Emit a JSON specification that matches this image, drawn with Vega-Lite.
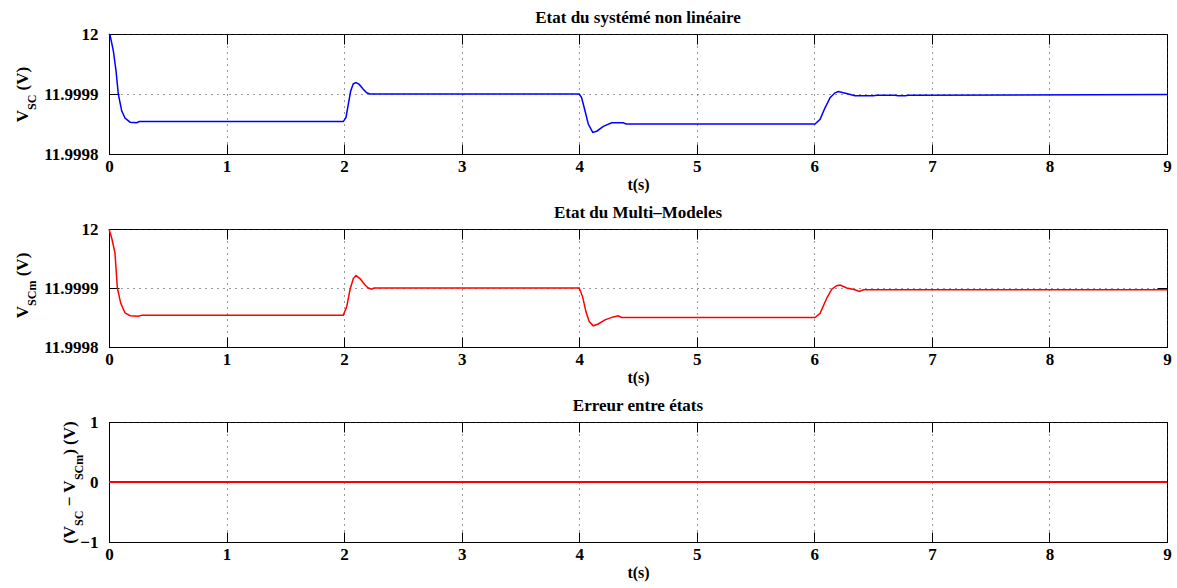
{
  "$schema": "https://vega.github.io/schema/vega-lite/v6.json",
  "background": "white",
  "padding": {"left": 12, "top": 8, "right": 2, "bottom": 2},
  "spacing": 10,
  "config": {
    "font": "Liberation Serif",
    "view": {"stroke": "black", "strokeWidth": 1},
    "axis": {
      "labelFont": "Liberation Serif",
      "labelFontSize": 17,
      "labelFontWeight": "bold",
      "labelColor": "black",
      "labelFlush": false,
      "labelOverlap": false,
      "labelBound": false,
      "titleFont": "Liberation Serif",
      "titleFontWeight": "bold",
      "titleColor": "black",
      "domainColor": "black",
      "tickColor": "black",
      "grid": false,
      "ticks": false,
      "gridColor": "#333333",
      "gridDash": [1, 5],
      "gridWidth": 1
    },
    "title": {
      "font": "Liberation Serif",
      "fontSize": 17,
      "fontWeight": "bold",
      "color": "black",
      "anchor": "middle",
      "frame": "group",
      "offset": -2
    },
    "line": {"strokeWidth": 1.5}
  },
  "vconcat": [
    {
      "width": 1058,
      "height": 120,
      "title": "Etat du systémé non linéaire",
      "data": {"values": [
        {"t": 0, "v": 12},
        {"t": 0.009, "v": 11.999998},
        {"t": 0.037, "v": 11.999972},
        {"t": 0.06, "v": 11.999938},
        {"t": 0.079, "v": 11.9999},
        {"t": 0.108, "v": 11.999872},
        {"t": 0.136, "v": 11.99986},
        {"t": 0.179, "v": 11.999853},
        {"t": 0.235, "v": 11.999852},
        {"t": 0.258, "v": 11.999854},
        {"t": 1.993, "v": 11.999854},
        {"t": 2.016, "v": 11.999861},
        {"t": 2.036, "v": 11.999883},
        {"t": 2.056, "v": 11.999905},
        {"t": 2.078, "v": 11.999917},
        {"t": 2.101, "v": 11.999919},
        {"t": 2.129, "v": 11.999916},
        {"t": 2.163, "v": 11.999908},
        {"t": 2.192, "v": 11.999902},
        {"t": 2.22, "v": 11.9999},
        {"t": 4.0, "v": 11.9999},
        {"t": 4.02, "v": 11.999894},
        {"t": 4.049, "v": 11.999872},
        {"t": 4.077, "v": 11.99985},
        {"t": 4.115, "v": 11.999836},
        {"t": 4.149, "v": 11.999838},
        {"t": 4.205, "v": 11.999846},
        {"t": 4.276, "v": 11.999852},
        {"t": 4.375, "v": 11.999852},
        {"t": 4.398, "v": 11.99985},
        {"t": 6.006, "v": 11.99985},
        {"t": 6.049, "v": 11.999858},
        {"t": 6.091, "v": 11.999877},
        {"t": 6.134, "v": 11.999894},
        {"t": 6.176, "v": 11.999902},
        {"t": 6.204, "v": 11.999904},
        {"t": 6.247, "v": 11.999902},
        {"t": 6.29, "v": 11.9999},
        {"t": 6.346, "v": 11.999897},
        {"t": 6.502, "v": 11.999897},
        {"t": 6.531, "v": 11.999898},
        {"t": 6.686, "v": 11.999898},
        {"t": 6.715, "v": 11.999897},
        {"t": 6.772, "v": 11.999897},
        {"t": 6.8, "v": 11.999898},
        {"t": 9, "v": 11.999899}
      ]},
      "resolve": {"axis": {"x": "independent", "y": "independent"}},
      "layer": [
        {
          "mark": {"type": "line", "color": "#0000ff", "strokeWidth": 1.5},
          "encoding": {
            "x": {"field": "t", "type": "quantitative", "scale": {"domain": [0, 9], "nice": false},
              "axis": {"orient": "bottom", "values": [0,1,2,3,4,5,6,7,8,9], "grid": true, "labelPadding": 4,
                "title": "t(s)", "titleFontSize": 16, "titlePadding": 2}},
            "y": {"field": "v", "type": "quantitative", "scale": {"domain": [11.9998, 12], "nice": false, "zero": false},
              "axis": {"orient": "left", "values": [11.9998, 11.9999, 12], "format": ".4~f", "grid": true, "labelPadding": 11,
                "title": "V", "titleFontSize": 17, "titleAngle": -90, "titleAlign": "left", "titleBaseline": "alphabetic",
                "titleX": -82, "titleY": 87.75}}
          }
        },
        {
          "transform": [{"filter": "datum.t < 0"}],
          "mark": {"type": "line", "color": "#0000ff"},
          "encoding": {
            "x": {"field": "t", "type": "quantitative", "scale": {"domain": [0, 9], "nice": false},
              "axis": {"orient": "top", "values": [0,1,2,3,4,5,6,7,8,9], "labels": false, "ticks": true, "tickSize": -10, "domain": false, "title": null}},
            "y": {"field": "v", "type": "quantitative", "scale": {"domain": [11.9998, 12], "nice": false, "zero": false},
              "axis": {"orient": "right", "values": [11.9998, 11.9999, 12], "labels": false, "ticks": true, "tickSize": -10, "domain": false, "title": null}}
          }
        },
        {
          "transform": [{"filter": "datum.t < 0"}],
          "mark": {"type": "line", "color": "#0000ff"},
          "encoding": {
            "x": {"field": "t", "type": "quantitative", "scale": {"domain": [0, 9], "nice": false},
              "axis": {"orient": "bottom", "values": [0,1,2,3,4,5,6,7,8,9], "labels": false, "ticks": true, "tickSize": -10, "domain": false, "title": null}},
            "y": {"field": "v", "type": "quantitative", "scale": {"domain": [11.9998, 12], "nice": false, "zero": false},
              "axis": {"orient": "left", "values": [11.9998, 11.9999, 12], "labels": false, "ticks": true, "tickSize": -10, "domain": false,
                "title": "SC", "titleFontSize": 12, "titleAngle": -90, "titleAlign": "left", "titleBaseline": "alphabetic",
                "titleX": -74, "titleY": 75.5}}
          }
        },
        {
          "transform": [{"filter": "datum.t < 0"}],
          "mark": {"type": "line", "color": "#0000ff"},
          "encoding": {
            "x": {"field": "t", "type": "quantitative", "scale": {"domain": [0, 9], "nice": false}, "axis": null},
            "y": {"field": "v", "type": "quantitative", "scale": {"domain": [11.9998, 12], "nice": false, "zero": false},
              "axis": {"orient": "left", "labels": false, "ticks": false, "domain": false,
                "title": "(V)", "titleFontSize": 17, "titleAngle": -90, "titleAlign": "left", "titleBaseline": "alphabetic",
                "titleX": -82, "titleY": 55.9}}
          }
        }
      ]
    },
    {
      "width": 1058,
      "height": 118,
      "title": "Etat du Multi–Modeles",
      "data": {"values": [
        {"t": 0, "v": 12},
        {"t": 0.025, "v": 11.999983},
        {"t": 0.051, "v": 11.999959},
        {"t": 0.071, "v": 11.9999},
        {"t": 0.1, "v": 11.999874},
        {"t": 0.136, "v": 11.999858},
        {"t": 0.179, "v": 11.999853},
        {"t": 0.25, "v": 11.999852},
        {"t": 0.278, "v": 11.999854},
        {"t": 1.993, "v": 11.999854},
        {"t": 2.022, "v": 11.999868},
        {"t": 2.05, "v": 11.999897},
        {"t": 2.078, "v": 11.999916},
        {"t": 2.101, "v": 11.999921},
        {"t": 2.135, "v": 11.999916},
        {"t": 2.178, "v": 11.999905},
        {"t": 2.206, "v": 11.9999},
        {"t": 2.235, "v": 11.999898},
        {"t": 2.254, "v": 11.9999},
        {"t": 4.0, "v": 11.9999},
        {"t": 4.029, "v": 11.999885},
        {"t": 4.057, "v": 11.99986},
        {"t": 4.085, "v": 11.999843},
        {"t": 4.119, "v": 11.999836},
        {"t": 4.162, "v": 11.999839},
        {"t": 4.219, "v": 11.999846},
        {"t": 4.29, "v": 11.999851},
        {"t": 4.332, "v": 11.999853},
        {"t": 4.361, "v": 11.99985},
        {"t": 6.006, "v": 11.99985},
        {"t": 6.049, "v": 11.999857},
        {"t": 6.106, "v": 11.999883},
        {"t": 6.148, "v": 11.999898},
        {"t": 6.19, "v": 11.999904},
        {"t": 6.219, "v": 11.999905},
        {"t": 6.276, "v": 11.9999},
        {"t": 6.346, "v": 11.999897},
        {"t": 6.383, "v": 11.999894},
        {"t": 6.417, "v": 11.999897},
        {"t": 9, "v": 11.999897}
      ]},
      "resolve": {"axis": {"x": "independent", "y": "independent"}},
      "layer": [
        {
          "mark": {"type": "line", "color": "#ff0000", "strokeWidth": 1.5},
          "encoding": {
            "x": {"field": "t", "type": "quantitative", "scale": {"domain": [0, 9], "nice": false},
              "axis": {"orient": "bottom", "values": [0,1,2,3,4,5,6,7,8,9], "grid": true, "labelPadding": 4,
                "title": "t(s)", "titleFontSize": 16, "titlePadding": 2}},
            "y": {"field": "v", "type": "quantitative", "scale": {"domain": [11.9998, 12], "nice": false, "zero": false},
              "axis": {"orient": "left", "values": [11.9998, 11.9999, 12], "format": ".4~f", "grid": true, "labelPadding": 11,
                "title": "V", "titleFontSize": 17, "titleAngle": -90, "titleAlign": "left", "titleBaseline": "alphabetic",
                "titleX": -82, "titleY": 88.7}}
          }
        },
        {
          "transform": [{"filter": "datum.t < 0"}],
          "mark": {"type": "line", "color": "#ff0000"},
          "encoding": {
            "x": {"field": "t", "type": "quantitative", "scale": {"domain": [0, 9], "nice": false},
              "axis": {"orient": "top", "values": [0,1,2,3,4,5,6,7,8,9], "labels": false, "ticks": true, "tickSize": -10, "domain": false, "title": null}},
            "y": {"field": "v", "type": "quantitative", "scale": {"domain": [11.9998, 12], "nice": false, "zero": false},
              "axis": {"orient": "right", "values": [11.9998, 11.9999, 12], "labels": false, "ticks": true, "tickSize": -10, "domain": false, "title": null}}
          }
        },
        {
          "transform": [{"filter": "datum.t < 0"}],
          "mark": {"type": "line", "color": "#ff0000"},
          "encoding": {
            "x": {"field": "t", "type": "quantitative", "scale": {"domain": [0, 9], "nice": false},
              "axis": {"orient": "bottom", "values": [0,1,2,3,4,5,6,7,8,9], "labels": false, "ticks": true, "tickSize": -10, "domain": false, "title": null}},
            "y": {"field": "v", "type": "quantitative", "scale": {"domain": [11.9998, 12], "nice": false, "zero": false},
              "axis": {"orient": "left", "values": [11.9998, 11.9999, 12], "labels": false, "ticks": true, "tickSize": -10, "domain": false,
                "title": "SCm", "titleFontSize": 12, "titleAngle": -90, "titleAlign": "left", "titleBaseline": "alphabetic",
                "titleX": -74, "titleY": 76.4}}
          }
        },
        {
          "transform": [{"filter": "datum.t < 0"}],
          "mark": {"type": "line", "color": "#ff0000"},
          "encoding": {
            "x": {"field": "t", "type": "quantitative", "scale": {"domain": [0, 9], "nice": false}, "axis": null},
            "y": {"field": "v", "type": "quantitative", "scale": {"domain": [11.9998, 12], "nice": false, "zero": false},
              "axis": {"orient": "left", "labels": false, "ticks": false, "domain": false,
                "title": "(V)", "titleFontSize": 17, "titleAngle": -90, "titleAlign": "left", "titleBaseline": "alphabetic",
                "titleX": -82, "titleY": 46.8}}
          }
        }
      ]
    },
    {
      "width": 1058,
      "height": 120,
      "title": "Erreur entre états",
      "data": {"values": [
        {"t": 0, "e": 0},
        {"t": 9, "e": 0}
      ]},
      "resolve": {"axis": {"x": "independent", "y": "independent"}},
      "layer": [
        {
          "mark": {"type": "line", "color": "#ff0000", "strokeWidth": 2},
          "encoding": {
            "x": {"field": "t", "type": "quantitative", "scale": {"domain": [0, 9], "nice": false},
              "axis": {"orient": "bottom", "values": [0,1,2,3,4,5,6,7,8,9], "grid": true, "labelPadding": 4,
                "title": "t(s)", "titleFontSize": 16, "titlePadding": 2}},
            "y": {"field": "e", "type": "quantitative", "scale": {"domain": [-1, 1], "nice": false, "zero": false},
              "axis": {"orient": "left", "values": [-1, 0, 1], "format": ".0f", "grid": true, "labelPadding": 11,
                "title": "(V", "titleFontSize": 17, "titleAngle": -90, "titleAlign": "left", "titleBaseline": "alphabetic",
                "titleX": -35, "titleY": 121.3}}
          }
        },
        {
          "transform": [{"filter": "datum.t < 0"}],
          "mark": {"type": "line", "color": "#ff0000"},
          "encoding": {
            "x": {"field": "t", "type": "quantitative", "scale": {"domain": [0, 9], "nice": false},
              "axis": {"orient": "top", "values": [0,1,2,3,4,5,6,7,8,9], "labels": false, "ticks": true, "tickSize": -10, "domain": false, "title": null}},
            "y": {"field": "e", "type": "quantitative", "scale": {"domain": [-1, 1], "nice": false, "zero": false},
              "axis": {"orient": "right", "values": [-1, 0, 1], "labels": false, "ticks": true, "tickSize": -10, "domain": false, "title": null}}
          }
        },
        {
          "transform": [{"filter": "datum.t < 0"}],
          "mark": {"type": "line", "color": "#ff0000"},
          "encoding": {
            "x": {"field": "t", "type": "quantitative", "scale": {"domain": [0, 9], "nice": false},
              "axis": {"orient": "bottom", "values": [0,1,2,3,4,5,6,7,8,9], "labels": false, "ticks": true, "tickSize": -10, "domain": false, "title": null}},
            "y": {"field": "e", "type": "quantitative", "scale": {"domain": [-1, 1], "nice": false, "zero": false},
              "axis": {"orient": "left", "values": [-1, 0, 1], "labels": false, "ticks": true, "tickSize": -10, "domain": false,
                "title": "SC", "titleFontSize": 12, "titleAngle": -90, "titleAlign": "left", "titleBaseline": "alphabetic",
                "titleX": -27, "titleY": 103.4}}
          }
        },
        {
          "transform": [{"filter": "datum.t < 0"}],
          "mark": {"type": "line", "color": "#ff0000"},
          "encoding": {
            "x": {"field": "t", "type": "quantitative", "scale": {"domain": [0, 9], "nice": false}, "axis": null},
            "y": {"field": "e", "type": "quantitative", "scale": {"domain": [-1, 1], "nice": false, "zero": false},
              "axis": {"orient": "left", "labels": false, "ticks": false, "domain": false,
                "title": "− V", "titleFontSize": 17, "titleAngle": -90, "titleAlign": "left", "titleBaseline": "alphabetic",
                "titleX": -35, "titleY": 83.8}}
          }
        },
        {
          "transform": [{"filter": "datum.t < 0"}],
          "mark": {"type": "line", "color": "#ff0000"},
          "encoding": {
            "x": {"field": "t", "type": "quantitative", "scale": {"domain": [0, 9], "nice": false}, "axis": null},
            "y": {"field": "e", "type": "quantitative", "scale": {"domain": [-1, 1], "nice": false, "zero": false},
              "axis": {"orient": "left", "labels": false, "ticks": false, "domain": false,
                "title": "SCm", "titleFontSize": 12, "titleAngle": -90, "titleAlign": "left", "titleBaseline": "alphabetic",
                "titleX": -27, "titleY": 57.6}}
          }
        },
        {
          "transform": [{"filter": "datum.t < 0"}],
          "mark": {"type": "line", "color": "#ff0000"},
          "encoding": {
            "x": {"field": "t", "type": "quantitative", "scale": {"domain": [0, 9], "nice": false}, "axis": null},
            "y": {"field": "e", "type": "quantitative", "scale": {"domain": [-1, 1], "nice": false, "zero": false},
              "axis": {"orient": "left", "labels": false, "ticks": false, "domain": false,
                "title": ") (V)", "titleFontSize": 17, "titleAngle": -90, "titleAlign": "left", "titleBaseline": "alphabetic",
                "titleX": -35, "titleY": 32.3}}
          }
        }
      ]
    }
  ]
}
